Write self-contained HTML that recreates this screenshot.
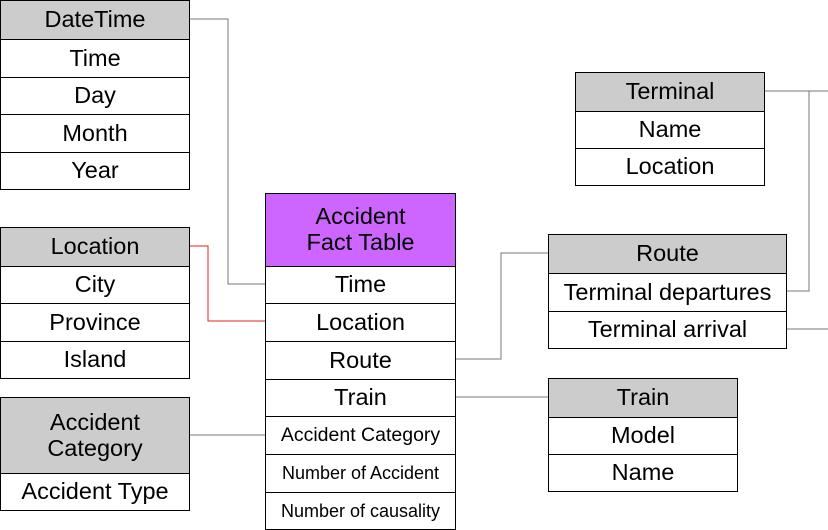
<!DOCTYPE html>
<html><head><meta charset="utf-8"><style>
body{margin:0;width:828px;height:529px;background:#fff;position:relative;overflow:hidden;font-family:"Liberation Sans",sans-serif;}
.t{position:absolute;border:1px solid #000;box-sizing:border-box;}
.r{box-sizing:border-box;border-top:1px solid #000;display:flex;align-items:center;justify-content:center;text-align:center;font-size:23.5px;color:#000;line-height:1.1;white-space:nowrap;}
.r:first-child{border-top:none}
.h{background:#cccccc}
svg{position:absolute;left:0;top:0}
</style></head><body>
<svg width="828" height="529">
<g fill="none" stroke-width="1">
<polyline points="189,19 228,19 228,284 265,284" stroke="#777"/>
<polyline points="189,246 208,246 208,321 265,321" stroke="#e02020"/>
<polyline points="189,435 265,435" stroke="#777"/>
<polyline points="455,359 501,359 501,253 548,253" stroke="#777"/>
<polyline points="455,397 548,397" stroke="#777"/>
<polyline points="764,91 828,91" stroke="#777"/>
<polyline points="809,91 809,291 786,291" stroke="#777"/>
<polyline points="786,329 828,329" stroke="#777"/>
</g></svg>

<div class="t" style="left:0;top:0;width:190px;height:190px">
<div class="r h" style="height:38px">DateTime</div>
<div class="r" style="height:38px">Time</div>
<div class="r" style="height:37px">Day</div>
<div class="r" style="height:38px">Month</div>
<div class="r" style="height:37px">Year</div>
</div>

<div class="t" style="left:0;top:227px;width:190px;height:152px">
<div class="r h" style="height:38px">Location</div>
<div class="r" style="height:37px">City</div>
<div class="r" style="height:38px">Province</div>
<div class="r" style="height:37px">Island</div>
</div>

<div class="t" style="left:0;top:397px;width:190px;height:114px">
<div class="r h" style="height:75px">Accident<br>Category</div>
<div class="r" style="height:37px">Accident Type</div>
</div>

<div class="t" style="left:265px;top:193px;width:191px;height:337px">
<div class="r" style="height:72px;background:#cc66ff">Accident<br>Fact Table</div>
<div class="r" style="height:37px">Time</div>
<div class="r" style="height:38px">Location</div>
<div class="r" style="height:38px">Route</div>
<div class="r" style="height:37px">Train</div>
<div class="r" style="height:38px;font-size:19.5px">Accident Category</div>
<div class="r" style="height:38px;font-size:18px">Number of Accident</div>
<div class="r" style="height:38px;font-size:18px">Number of causality</div>
</div>

<div class="t" style="left:575px;top:72px;width:190px;height:114px">
<div class="r h" style="height:38px">Terminal</div>
<div class="r" style="height:37px">Name</div>
<div class="r" style="height:37px">Location</div>
</div>

<div class="t" style="left:548px;top:234px;width:239px;height:115px">
<div class="r h" style="height:38px">Route</div>
<div class="r" style="height:38px">Terminal departures</div>
<div class="r" style="height:37px">Terminal arrival</div>
</div>

<div class="t" style="left:548px;top:378px;width:190px;height:114px">
<div class="r h" style="height:38px">Train</div>
<div class="r" style="height:37px">Model</div>
<div class="r" style="height:37px">Name</div>
</div>
</body></html>
